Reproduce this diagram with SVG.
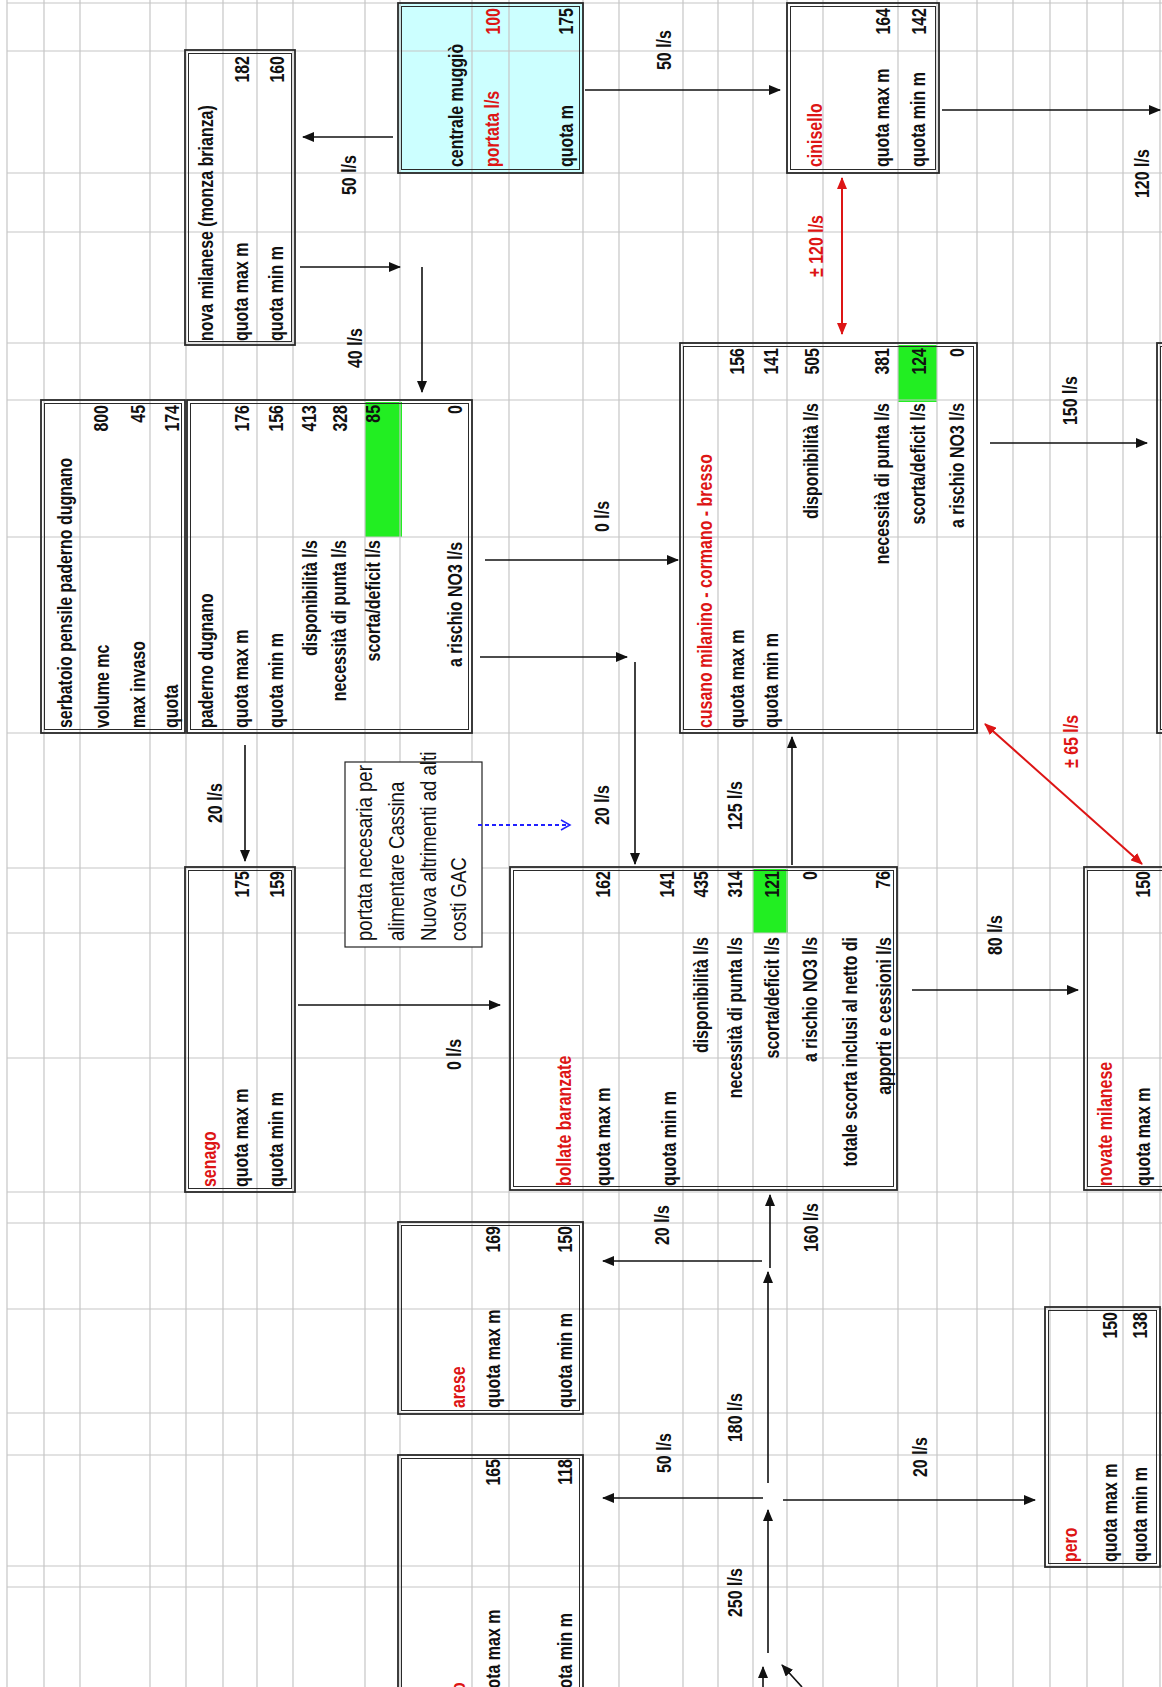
<svg xmlns="http://www.w3.org/2000/svg" width="1162" height="1687" viewBox="0 0 1162 1687">
<style>
.grid{stroke:#c6c6c6;stroke-width:1.2;fill:none}
.bo{fill:none;stroke:#2a2a2a;stroke-width:1.8}
.bi{fill:none;stroke:#2a2a2a;stroke-width:1}
.t{font-family:"Liberation Sans",Arial,sans-serif;font-weight:bold;font-size:21px;fill:#111}
.red{fill:#dd1515}
.e{text-anchor:end}
.nt{font-family:"Liberation Sans",Arial,sans-serif;font-size:23px;fill:#111}
.ar{stroke:#111;stroke-width:1.6;fill:none;marker-end:url(#ah)}
.arr{stroke:#dd1515;stroke-width:2;fill:none;marker-end:url(#ahr);marker-start:url(#ahr)}
.green{fill:#22ee22}
</style>
<defs>
<marker id="ah" markerWidth="12" markerHeight="10" refX="11" refY="5" orient="auto" markerUnits="userSpaceOnUse"><path d="M0,0 L12,5 L0,10 z" fill="#111"/></marker>
<marker id="ahr" markerWidth="12" markerHeight="10" refX="11" refY="5" orient="auto-start-reverse" markerUnits="userSpaceOnUse"><path d="M0,0 L12,5 L0,10 z" fill="#dd1515"/></marker>
<marker id="ahb" markerWidth="12" markerHeight="12" refX="10" refY="6" orient="auto" markerUnits="userSpaceOnUse"><path d="M1,1 L10,6 L1,11" fill="none" stroke="#2020ff" stroke-width="1.5"/></marker>
</defs>
<rect width="1162" height="1687" fill="#fff"/>
<rect x="398" y="3" width="185" height="170" fill="#ccffff"/>
<rect class="green" x="365" y="402" width="37" height="135"/>
<rect class="green" x="898" y="345" width="39" height="57"/>
<rect class="green" x="753" y="869" width="35" height="64"/>
<g id="grid">
<path class="grid" d="M7,0V1687M44,0V1687M80,0V1687M150,0V1687M186,0V1687M223,0V1687M257,0V1687M293,0V1687M365,0V1687M400,0V1687M472,0V1687M509,0V1687M583,0V1687M619,0V1687M683,0V1687M718,0V1687M753,0V1687M787,0V1687M823,0V1687M898,0V1687M937,0V1687M977,0V1687M1013,0V1687M1050,0V1687M1087,0V1687M1123,0V1687M1160,0V1687"/>
<path class="grid" d="M7,3H1162M7,51H1162M7,173H1162M7,232H1162M7,343H1162M7,400H1162M7,537H1162M7,733H1162M7,868H1162M7,933H1162M7,1058H1162M7,1192H1162M7,1223H1162M7,1309H1162M7,1413H1162M7,1455H1162M7,1566H1162M7,1587H1162"/>
</g>

<g id="serbatoio">
<rect class="bo" x="41" y="400" width="144" height="333"/><rect class="bi" x="44.5" y="403.5" width="137" height="326"/>
<text class="t" transform="translate(72,728) rotate(-90) scale(0.76,1)">serbatoio pensile paderno dugnano</text>
<text class="t" transform="translate(109,728) rotate(-90) scale(0.76,1)">volume mc</text>
<text class="t e" transform="translate(108,405) rotate(-90) scale(0.76,1)">800</text>
<text class="t" transform="translate(145,728) rotate(-90) scale(0.76,1)">max invaso</text>
<text class="t e" transform="translate(145,405) rotate(-90) scale(0.76,1)">45</text>
<text class="t" transform="translate(178,728) rotate(-90) scale(0.76,1)">quota</text>
<text class="t e" transform="translate(179,405) rotate(-90) scale(0.76,1)">174</text>
</g>

<g id="paderno">
<rect class="bo" x="187" y="400" width="285" height="333"/><rect class="bi" x="190.5" y="403.5" width="278" height="326"/>
<text class="t" transform="translate(213,728) rotate(-90) scale(0.76,1)">paderno dugnano</text>
<text class="t" transform="translate(248,728) rotate(-90) scale(0.76,1)">quota max m</text>
<text class="t e" transform="translate(249,405) rotate(-90) scale(0.76,1)">176</text>
<text class="t" transform="translate(283,728) rotate(-90) scale(0.76,1)">quota min m</text>
<text class="t e" transform="translate(283,405) rotate(-90) scale(0.76,1)">156</text>
<text class="t e" transform="translate(317,540) rotate(-90) scale(0.76,1)">disponibilità l/s</text>
<text class="t e" transform="translate(316,405) rotate(-90) scale(0.76,1)">413</text>
<text class="t e" transform="translate(346,540) rotate(-90) scale(0.76,1)">necessità di punta l/s</text>
<text class="t e" transform="translate(347,405) rotate(-90) scale(0.76,1)">328</text>
<text class="t e" transform="translate(380,540) rotate(-90) scale(0.76,1)">scorta/deficit l/s</text>
<text class="t e" transform="translate(380,405) rotate(-90) scale(0.76,1)">85</text>
<text class="t e" transform="translate(462,542) rotate(-90) scale(0.76,1)">a rischio NO3 l/s</text>
<text class="t e" transform="translate(462,405) rotate(-90) scale(0.76,1)">0</text>
</g>

<g id="nova-milanese">
<rect class="bo" x="185" y="50" width="110" height="295"/><rect class="bi" x="188.5" y="53.5" width="103" height="288"/>
<text class="t" transform="translate(213,341) rotate(-90) scale(0.76,1)">nova milanese (monza brianza)</text>
<text class="t" transform="translate(248,341) rotate(-90) scale(0.76,1)">quota max m</text>
<text class="t e" transform="translate(249,56) rotate(-90) scale(0.76,1)">182</text>
<text class="t" transform="translate(283,341) rotate(-90) scale(0.76,1)">quota min m</text>
<text class="t e" transform="translate(284,56) rotate(-90) scale(0.76,1)">160</text>
</g>

<g id="centrale-muggio">
<rect class="bo" x="398" y="3" width="185" height="170"/><rect class="bi" x="401.5" y="6.5" width="178" height="163"/>
<text class="t" transform="translate(463,167) rotate(-90) scale(0.76,1)">centrale muggiò</text>
<text class="t red" transform="translate(499,167) rotate(-90) scale(0.76,1)">portata l/s</text>
<text class="t red e" transform="translate(500,8) rotate(-90) scale(0.76,1)">100</text>
<text class="t" transform="translate(573,167) rotate(-90) scale(0.76,1)">quota m</text>
<text class="t e" transform="translate(573,8) rotate(-90) scale(0.76,1)">175</text>
</g>

<g id="cinisello">
<rect class="bo" x="787" y="3" width="152" height="170"/><rect class="bi" x="790.5" y="6.5" width="145" height="163"/>
<text class="t red" transform="translate(822,167) rotate(-90) scale(0.76,1)">cinisello</text>
<text class="t" transform="translate(889,167) rotate(-90) scale(0.76,1)">quota max m</text>
<text class="t e" transform="translate(890,8) rotate(-90) scale(0.76,1)">164</text>
<text class="t" transform="translate(925,167) rotate(-90) scale(0.76,1)">quota min m</text>
<text class="t e" transform="translate(926,8) rotate(-90) scale(0.76,1)">142</text>
</g>

<g id="cusano">
<rect class="bo" x="680" y="343" width="297" height="390"/><rect class="bi" x="683.5" y="346.5" width="290" height="383"/>
<text class="t red" transform="translate(712,728) rotate(-90) scale(0.76,1)">cusano milanino - cormano - bresso</text>
<text class="t" transform="translate(744,728) rotate(-90) scale(0.76,1)">quota max m</text>
<text class="t e" transform="translate(744,348) rotate(-90) scale(0.76,1)">156</text>
<text class="t" transform="translate(778,728) rotate(-90) scale(0.76,1)">quota min m</text>
<text class="t e" transform="translate(778,348) rotate(-90) scale(0.76,1)">141</text>
<text class="t e" transform="translate(818,403) rotate(-90) scale(0.76,1)">disponibilità l/s</text>
<text class="t e" transform="translate(819,348) rotate(-90) scale(0.76,1)">505</text>
<text class="t e" transform="translate(889,403) rotate(-90) scale(0.76,1)">necessità di punta l/s</text>
<text class="t e" transform="translate(889,348) rotate(-90) scale(0.76,1)">381</text>
<text class="t e" transform="translate(925,403) rotate(-90) scale(0.76,1)">scorta/deficit l/s</text>
<text class="t e" transform="translate(926,348) rotate(-90) scale(0.76,1)">124</text>
<text class="t e" transform="translate(964,403) rotate(-90) scale(0.76,1)">a rischio NO3 l/s</text>
<text class="t e" transform="translate(964,348) rotate(-90) scale(0.76,1)">0</text>
</g>

<g id="right-box">
<rect class="bo" x="1157" y="343" width="40" height="390"/><rect class="bi" x="1160.5" y="346.5" width="33" height="383"/>
</g>

<g id="senago">
<rect class="bo" x="185" y="867" width="110" height="325"/><rect class="bi" x="188.5" y="870.5" width="103" height="318"/>
<text class="t red" transform="translate(216,1187) rotate(-90) scale(0.76,1)">senago</text>
<text class="t" transform="translate(248,1187) rotate(-90) scale(0.76,1)">quota max m</text>
<text class="t e" transform="translate(249,871) rotate(-90) scale(0.76,1)">175</text>
<text class="t" transform="translate(283,1187) rotate(-90) scale(0.76,1)">quota min m</text>
<text class="t e" transform="translate(284,871) rotate(-90) scale(0.76,1)">159</text>
</g>

<g id="note">
<rect x="345" y="762" width="137" height="185" fill="#fff" stroke="#222" stroke-width="1.2"/>
<text class="nt" transform="translate(372,941) rotate(-90) scale(0.81,1)">portata  necesaria per</text>
<text class="nt" transform="translate(404,941) rotate(-90) scale(0.81,1)">alimentare Cassina</text>
<text class="nt" transform="translate(436,941) rotate(-90) scale(0.81,1)">Nuova altrimenti ad alti</text>
<text class="nt" transform="translate(466,941) rotate(-90) scale(0.81,1)">costi GAC</text>
</g>

<g id="bollate">
<rect class="bo" x="510" y="867" width="387" height="323"/><rect class="bi" x="513.5" y="870.5" width="380" height="316"/>
<text class="t red" transform="translate(571,1186) rotate(-90) scale(0.76,1)">bollate baranzate</text>
<text class="t" transform="translate(610,1186) rotate(-90) scale(0.76,1)">quota max m</text>
<text class="t e" transform="translate(610,871) rotate(-90) scale(0.76,1)">162</text>
<text class="t" transform="translate(676,1186) rotate(-90) scale(0.76,1)">quota min m</text>
<text class="t e" transform="translate(674,871) rotate(-90) scale(0.76,1)">141</text>
<text class="t e" transform="translate(708,937) rotate(-90) scale(0.76,1)">disponibilità l/s</text>
<text class="t e" transform="translate(708,871) rotate(-90) scale(0.76,1)">435</text>
<text class="t e" transform="translate(742,937) rotate(-90) scale(0.76,1)">necessità di punta l/s</text>
<text class="t e" transform="translate(742,871) rotate(-90) scale(0.76,1)">314</text>
<text class="t e" transform="translate(779,937) rotate(-90) scale(0.76,1)">scorta/deficit l/s</text>
<text class="t e" transform="translate(779,871) rotate(-90) scale(0.76,1)">121</text>
<text class="t e" transform="translate(817,937) rotate(-90) scale(0.76,1)">a rischio NO3 l/s</text>
<text class="t e" transform="translate(817,871) rotate(-90) scale(0.76,1)">0</text>
<text class="t e" transform="translate(857,937) rotate(-90) scale(0.76,1)">totale scorta inclusi al netto di</text>
<text class="t e" transform="translate(891,937) rotate(-90) scale(0.76,1)">apporti e cessioni l/s</text>
<text class="t e" transform="translate(890,871) rotate(-90) scale(0.76,1)">76</text>
</g>

<g id="novate">
<rect class="bo" x="1084" y="867" width="110" height="323"/><rect class="bi" x="1087.5" y="870.5" width="103" height="316"/>
<text class="t red" transform="translate(1112,1186) rotate(-90) scale(0.76,1)">novate milanese</text>
<text class="t" transform="translate(1150,1186) rotate(-90) scale(0.76,1)">quota max m</text>
<text class="t e" transform="translate(1150,871) rotate(-90) scale(0.76,1)">150</text>
</g>

<g id="arese">
<rect class="bo" x="398" y="1222" width="185" height="192"/><rect class="bi" x="401.5" y="1225.5" width="178" height="185"/>
<text class="t red" transform="translate(465,1408) rotate(-90) scale(0.76,1)">arese</text>
<text class="t" transform="translate(500,1408) rotate(-90) scale(0.76,1)">quota max m</text>
<text class="t e" transform="translate(500,1226) rotate(-90) scale(0.76,1)">169</text>
<text class="t" transform="translate(572,1408) rotate(-90) scale(0.76,1)">quota min m</text>
<text class="t e" transform="translate(572,1226) rotate(-90) scale(0.76,1)">150</text>
</g>

<g id="rho">
<rect class="bo" x="398" y="1455" width="185" height="260"/><rect class="bi" x="401.5" y="1458.5" width="178" height="253"/>
<text class="t red" transform="translate(465,1708) rotate(-90) scale(0.76,1)">rho</text>
<text class="t" transform="translate(500,1708) rotate(-90) scale(0.76,1)">quota max m</text>
<text class="t e" transform="translate(500,1459) rotate(-90) scale(0.76,1)">165</text>
<text class="t" transform="translate(572,1708) rotate(-90) scale(0.76,1)">quota min m</text>
<text class="t e" transform="translate(572,1459) rotate(-90) scale(0.76,1)">118</text>
</g>

<g id="pero">
<rect class="bo" x="1045" y="1307" width="115" height="260"/><rect class="bi" x="1048.5" y="1310.5" width="108" height="253"/>
<text class="t red" transform="translate(1077,1562) rotate(-90) scale(0.76,1)">pero</text>
<text class="t" transform="translate(1117,1562) rotate(-90) scale(0.76,1)">quota max m</text>
<text class="t e" transform="translate(1117,1312) rotate(-90) scale(0.76,1)">150</text>
<text class="t" transform="translate(1147,1562) rotate(-90) scale(0.76,1)">quota min m</text>
<text class="t e" transform="translate(1147,1312) rotate(-90) scale(0.76,1)">138</text>
</g>

<g id="connectors">
<path class="ar" d="M393,137H303"/>
<path class="ar" d="M300,267H400"/>
<path class="ar" d="M422,267V392"/>
<path class="ar" d="M585,90H780"/>
<path class="ar" d="M942,110H1160"/>
<path class="arr" d="M842,178V334"/>
<path class="ar" d="M485,560H678"/>
<path class="ar" d="M480,657H627"/>
<path class="ar" d="M635,662V864"/>
<path class="ar" d="M245,745V861"/>
<path class="ar" d="M792,865V737"/>
<path class="ar" d="M990,443H1147"/>
<path class="arr" d="M985,724L1142,864"/>
<path class="ar" d="M298,1005H500"/>
<path d="M478,825H570" stroke="#2020ff" stroke-width="2" stroke-dasharray="4 3" fill="none" marker-end="url(#ahb)"/>
<path class="ar" d="M912,990H1078"/>
<path class="ar" d="M770,1268V1195"/>
<path class="ar" d="M762,1261H603"/>
<path class="ar" d="M768,1483V1272"/>
<path class="ar" d="M763,1498H603"/>
<path class="ar" d="M783,1500H1035"/>
<path class="ar" d="M768,1653V1510"/>
<path class="ar" d="M763,1687V1667"/>
<path class="ar" d="M802,1687L782,1665"/>
<text class="t" transform="translate(356,195) rotate(-90) scale(0.76,1)">50 l/s</text>
<text class="t" transform="translate(362,368) rotate(-90) scale(0.76,1)">40 l/s</text>
<text class="t" transform="translate(671,70) rotate(-90) scale(0.76,1)">50 l/s</text>
<text class="t" transform="translate(1149,198) rotate(-90) scale(0.76,1)">120 l/s</text>
<text class="t red" transform="translate(823,277) rotate(-90) scale(0.76,1)">± 120 l/s</text>
<text class="t" transform="translate(1077,425) rotate(-90) scale(0.76,1)">150 l/s</text>
<text class="t" transform="translate(609,532) rotate(-90) scale(0.76,1)">0 l/s</text>
<text class="t" transform="translate(222,823) rotate(-90) scale(0.76,1)">20 l/s</text>
<text class="t" transform="translate(609,825) rotate(-90) scale(0.76,1)">20 l/s</text>
<text class="t" transform="translate(742,830) rotate(-90) scale(0.76,1)">125 l/s</text>
<text class="t red" transform="translate(1078,768) rotate(-90) scale(0.76,1)">± 65 l/s</text>
<text class="t" transform="translate(461,1070) rotate(-90) scale(0.76,1)">0 l/s</text>
<text class="t" transform="translate(1002,955) rotate(-90) scale(0.76,1)">80 l/s</text>
<text class="t" transform="translate(669,1245) rotate(-90) scale(0.76,1)">20 l/s</text>
<text class="t" transform="translate(818,1252) rotate(-90) scale(0.76,1)">160 l/s</text>
<text class="t" transform="translate(671,1473) rotate(-90) scale(0.76,1)">50 l/s</text>
<text class="t" transform="translate(742,1442) rotate(-90) scale(0.76,1)">180 l/s</text>
<text class="t" transform="translate(927,1477) rotate(-90) scale(0.76,1)">20 l/s</text>
<text class="t" transform="translate(742,1617) rotate(-90) scale(0.76,1)">250 l/s</text>
</g>
</svg>
